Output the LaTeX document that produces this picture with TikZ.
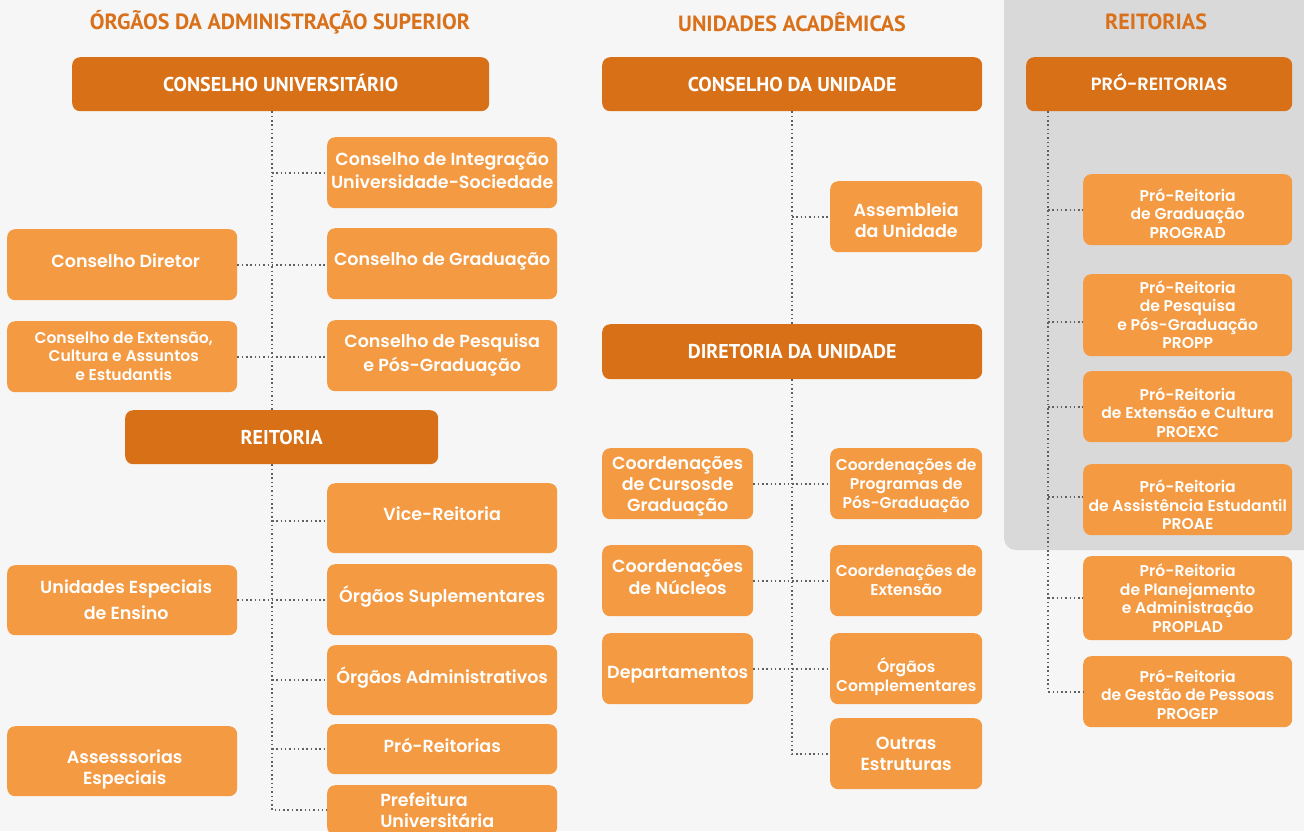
\documentclass[tikz,border=0pt]{standalone}
\usepackage{fontspec}
\setmainfont{Poppins}[BoldFont={Poppins SemiBold}]
\newfontfamily\headfont{PT Sans}
\definecolor{bgc}{HTML}{F6F6F6}
\definecolor{panelc}{HTML}{D9D9D9}
\definecolor{darkor}{HTML}{D87017}
\definecolor{lightor}{HTML}{F49A42}
\definecolor{titlec}{HTML}{D9701A}
\definecolor{dotc}{HTML}{606060}
% text block, centred in its box, moved down by the optional amount
\newcommand\tx[2][0pt]{\raisebox{\dimexpr-5pt-(#1)\relax}[0pt][0pt]{\begin{tabular}{@{}c@{}}#2\end{tabular}}}
\newcommand\txl[2][0pt]{\raisebox{\dimexpr-5pt-(#1)\relax}[0pt][0pt]{\begin{tabular}{@{}l@{}}#2\end{tabular}}}
\tikzset{
  dark/.style={fill=darkor, rounded corners=8pt, text=white, inner sep=0pt, anchor=north west,
    text height=14pt, text depth=0pt, font=\headfont\bfseries\fontsize{20}{24}\selectfont},
  light/.style={fill=lightor, rounded corners=8pt, text=white, inner sep=0pt, anchor=north west,
    font=\bfseries\fontsize{17.5}{23}\selectfont},
  small/.style={font=\bfseries\fontsize{15.6}{18.5}\selectfont},
  mid/.style={font=\bfseries\fontsize{15.6}{19}\selectfont},
  conn/.style={draw=dotc, line width=1.6pt, dash pattern=on 1.5pt off 2.8pt},
  title/.style={text=titlec, font=\headfont\bfseries\fontsize{22}{26}\selectfont},
}
\begin{document}
\begin{tikzpicture}[x=1pt,y=-1pt]
\useasboundingbox (0,0) rectangle (1304,831);
\fill[bgc] (0,0) rectangle (1304,831);
\fill[panelc, rounded corners=12pt] (1004,-30) rectangle (1340,550);

% titles
\node[title] (t1) at (280,22) {ÓRGÃOS DA ADMINISTRAÇÃO SUPERIOR};
\node[title] (t2) at (792,22) {UNIDADES ACADÊMICAS};
\node[title] (t3) at (1156,22) {REITORIAS};

% left column
\node[dark, minimum width=417pt, minimum height=54pt] (cu) at (72,57) {CONSELHO UNIVERSITÁRIO};
\node[dark, minimum width=313pt, minimum height=54pt] (reit) at (125,410) {REITORIA};
\node[light, minimum width=230pt, minimum height=71pt] (integ) at (327,137) {\tx[-1pt]{Conselho de Integração\\Universidade-Sociedade}};
\node[light, minimum width=230pt, minimum height=71pt] (cgrad) at (327,228) {\tx[-3.5pt]{Conselho de Graduação}};
\node[light, minimum width=230pt, minimum height=71pt, font=\bfseries\fontsize{17.5}{24}\selectfont] (cpesq) at (327,320) {\tx[-1.5pt]{Conselho de Pesquisa\\e Pós-Graduação}};
\node[light, minimum width=230pt, minimum height=71pt] (cdir) at (7,229) {\hspace*{7pt}\tx[-2pt]{Conselho Diretor}};
\node[light, small, minimum width=230pt, minimum height=71pt] (cext) at (7,321) {\hspace*{3pt}\tx{Conselho de Extensão,\\Cultura e Assuntos\\e Estudantis}};
\node[light, minimum width=230pt, minimum height=70pt] (vice) at (327,483) {\tx[-2.5pt]{Vice-Reitoria}};
\node[light, minimum width=230pt, minimum height=71pt] (supl) at (327,564) {\tx[-3pt]{Órgãos Suplementares}};
\node[light, minimum width=230pt, minimum height=70pt] (adm) at (327,645) {\tx[-2.5pt]{Órgãos Administrativos}};
\node[light, minimum width=230pt, minimum height=50pt] (prr) at (327,724) {\tx[-1.5pt]{Pró-Reitorias}};
\node[light, minimum width=230pt, minimum height=50pt, font=\bfseries\fontsize{17.5}{21}\selectfont] (pref) at (327,785) {\hspace*{-10pt}\txl[1.5pt]{Prefeitura\\Universitária}};
\node[light, minimum width=230pt, minimum height=70pt, font=\bfseries\fontsize{17.5}{26}\selectfont] (uee) at (7,565) {\hspace*{8pt}\tx[0.5pt]{Unidades Especiais\\de Ensino}};
\node[light, minimum width=230pt, minimum height=70pt, font=\bfseries\fontsize{17.5}{21}\selectfont] (ass) at (7,726) {\hspace*{5pt}\tx[8pt]{Assesssorias\\Especiais}};

\coordinate (lx) at (272,0);
\draw[conn] (cu.south -| lx) -- (reit.north -| lx);
\draw[conn] (reit.south -| lx) -- (lx |- pref.west) -- (pref.west);
\draw[conn] (lx |- integ.west) -- (integ.west);
\draw[conn] (cdir.east) -- (cdir.east -| cgrad.west);
\draw[conn] (cext.east) -- (cext.east -| cpesq.west);
\draw[conn] ([yshift=-3pt]vice.west -| lx) -- ([yshift=-3pt]vice.west);
\draw[conn] (uee.east) -- (uee.east -| supl.west);
\draw[conn] (lx |- adm.west) -- (adm.west);
\draw[conn] (lx |- prr.west) -- (prr.west);

% middle column
\node[dark, minimum width=380pt, minimum height=54pt] (cdu) at (602,57) {CONSELHO DA UNIDADE};
\node[dark, minimum width=380pt, minimum height=55pt] (dir) at (602,324) {DIRETORIA DA UNIDADE};
\node[light, minimum width=152pt, minimum height=71pt, font=\bfseries\fontsize{17.5}{21}\selectfont] (assem) at (830,181) {\tx[5.5pt]{Assembleia\\da Unidade}};
\node[light, minimum width=151pt, minimum height=71pt, font=\bfseries\fontsize{17.5}{21}\selectfont] (ccg) at (602,448) {\tx[2pt]{Coordenações\\de Cursosde\\Graduação}};
\node[light, mid, minimum width=152pt, minimum height=71pt] (cpg) at (830,448) {\tx[0.5pt]{Coordenações de\\Programas de\\Pós-Graduação}};
\node[light, minimum width=151pt, minimum height=71pt, font=\bfseries\fontsize{17.5}{22}\selectfont] (cnuc) at (602,545) {\tx[-2.5pt]{Coordenações\\de Núcleos}};
\node[light, mid, minimum width=152pt, minimum height=71pt] (cex) at (830,545) {\tx[0.5pt]{Coordenações de\\Extensão}};
\node[light, minimum width=151pt, minimum height=71pt] (dep) at (602,633) {\tx[5pt]{Departamentos}};
\node[light, mid, minimum width=152pt, minimum height=71pt] (ocomp) at (830,633) {\tx[7pt]{Órgãos\\Complementares}};
\node[light, minimum width=152pt, minimum height=71pt, font=\bfseries\fontsize{17.5}{21}\selectfont] (outras) at (830,718) {\tx[1pt]{Outras\\Estruturas}};

\coordinate (mx) at (792,0);
\draw[conn] (cdu.south -| mx) -- (dir.north -| mx);
\draw[conn] (mx |- assem.west) -- (assem.west);
\draw[conn] (dir.south -| mx) -- (mx |- outras.west) -- (outras.west);
\draw[conn] (ccg.east) -- (cpg.west);
\draw[conn] (cnuc.east) -- (cex.west);
\draw[conn] (dep.east) -- (ocomp.west);

% right column
\node[dark, minimum width=266pt, minimum height=54pt, text height=12.5pt, font=\bfseries\fontsize{17.8}{20}\selectfont] (pr) at (1026,57) {PRÓ-REITORIAS};
\node[light, small, minimum width=209pt, minimum height=71pt] (prograd) at (1083,174) {\tx[5pt]{Pró-Reitoria\\de Graduação\\PROGRAD}};
\node[light, small, minimum width=209pt, minimum height=82pt] (propp) at (1083,274) {\tx[0.5pt]{Pró-Reitoria\\de Pesquisa\\e Pós-Graduação\\PROPP}};
\node[light, small, minimum width=209pt, minimum height=71pt] (proexc) at (1083,371) {\tx[7pt]{Pró-Reitoria\\de Extensão e Cultura\\PROEXC}};
\node[light, small, minimum width=209pt, minimum height=71pt] (proae) at (1083,464) {\tx[6.5pt]{Pró-Reitoria\\de Assistência Estudantil\\PROAE}};
\node[light, small, minimum width=209pt, minimum height=84pt] (proplad) at (1083,556) {\tx[1pt]{Pró-Reitoria\\de Planejamento\\e Administração\\PROPLAD}};
\node[light, small, minimum width=209pt, minimum height=71pt] (progep) at (1083,656) {\tx[4pt]{Pró-Reitoria\\de Gestão de Pessoas\\PROGEP}};

\coordinate (rx) at (1048,0);
\draw[conn] (pr.south -| rx) -- (rx |- progep.west) -- (progep.west);
\draw[conn] (rx |- prograd.west) -- (prograd.west);
\draw[conn] ([yshift=-7pt]propp.west -| rx) -- ([yshift=-7pt]propp.west);
\draw[conn] (rx |- proexc.west) -- (proexc.west);
\draw[conn] ([yshift=3pt]proae.west -| rx) -- ([yshift=3pt]proae.west);
\draw[conn] (rx |- proplad.west) -- (proplad.west);
\end{tikzpicture}
\end{document}
